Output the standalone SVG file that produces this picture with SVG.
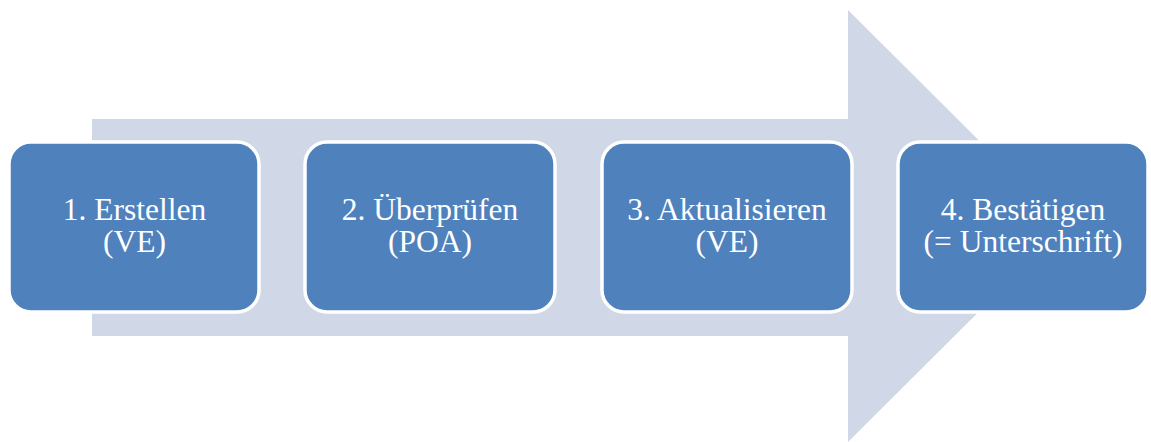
<svg xmlns="http://www.w3.org/2000/svg" width="1151" height="442" viewBox="0 0 1151 442">
<style>
.box{fill:#4F81BD;stroke:#FFFFFF;stroke-width:3.5}
.lbl{fill:#FFFFFF;font-size:31.5px;text-anchor:middle}
</style>
<g id="arrow">
<polygon points="92,119 848,119 848,10 1065,226 848,442 848,336 92,336" fill="#D0D8E8"/>
</g>
<g id="connectors"></g>
<g id="node1" font-family="'Liberation Serif', 'Times New Roman', Times, serif">
<rect class="box" x="9" y="142" width="250" height="170" rx="22"/>
<text class="lbl" x="134.5" y="220">1. Erstellen</text>
<text class="lbl" x="134.5" y="252">(VE)</text>
</g>
<g id="node2" font-family="'Liberation Serif', 'Times New Roman', Times, serif">
<rect class="box" x="305" y="142" width="250" height="170" rx="22"/>
<text class="lbl" x="430" y="220">2. Überprüfen</text>
<text class="lbl" x="430" y="252">(POA)</text>
</g>
<g id="node3" font-family="'Liberation Serif', 'Times New Roman', Times, serif">
<rect class="box" x="602" y="142" width="250" height="170" rx="22"/>
<text class="lbl" x="727" y="220">3. Aktualisieren</text>
<text class="lbl" x="727" y="252">(VE)</text>
</g>
<g id="node4" font-family="'Liberation Serif', 'Times New Roman', Times, serif">
<rect class="box" x="898" y="142" width="250" height="170" rx="22"/>
<text class="lbl" x="1023" y="220">4. Bestätigen</text>
<text class="lbl" x="1023" y="252">(= Unterschrift)</text>
</g>
</svg>
